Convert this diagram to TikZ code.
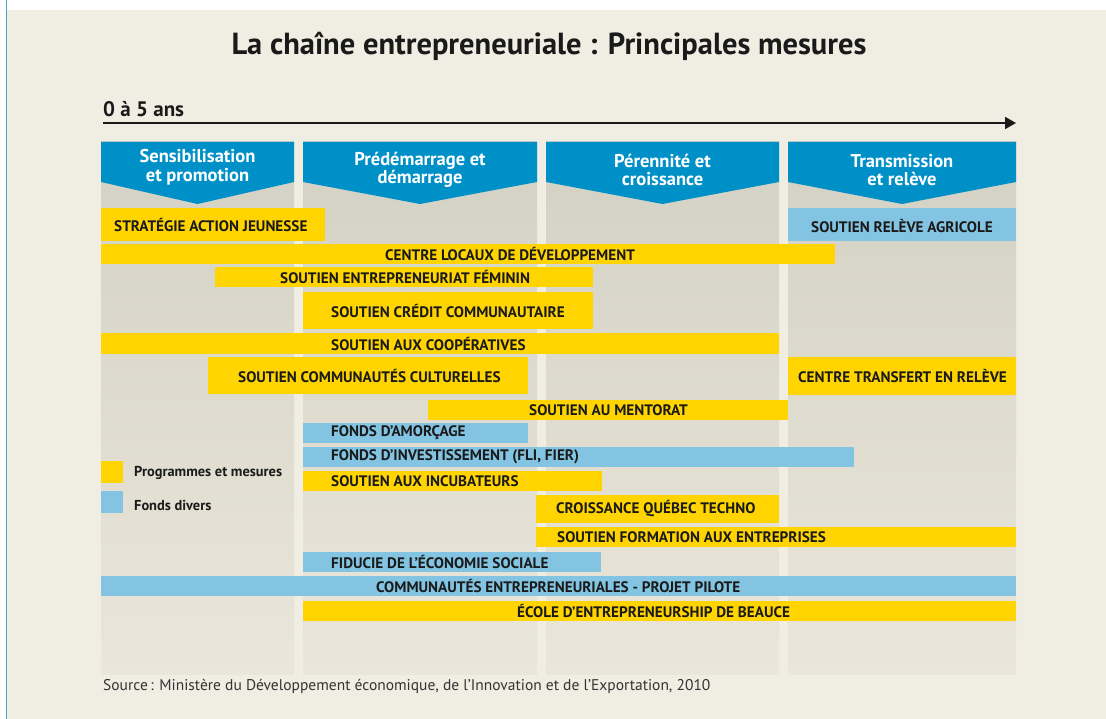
\documentclass[tikz,border=0pt]{standalone}
\usepackage{fontspec}
\setmainfont{PT Sans}
\usetikzlibrary{arrows.meta}
\definecolor{bg}{HTML}{F0EEE3}
\definecolor{coltop}{HTML}{D3D1C4}
\definecolor{colbot}{HTML}{EAE7DA}
\definecolor{hdr}{HTML}{0090C8}
\definecolor{ylw}{HTML}{FFD400}
\definecolor{lblue}{HTML}{82C4E2}
\definecolor{edgeblue}{HTML}{4AA8D8}
\definecolor{ink}{HTML}{1A1A1A}
\begin{document}
\begin{tikzpicture}[x=1pt,y=-1pt,
  bar/.style={draw=none,inner sep=0pt,anchor=north west},
  ybar/.style={bar,fill=ylw},
  bbar/.style={bar,fill=lblue},
  btxt/.style={inner sep=0pt,anchor=west,font=\bfseries\fontsize{15.2}{15.2}\selectfont,text=ink},
  hdrtxt/.style={inner sep=0pt,align=center,text=white,font=\bfseries\fontsize{18.5}{18.5}\selectfont},
  legtxt/.style={inner sep=0pt,anchor=west,font=\bfseries\fontsize{14.4}{14.4}\selectfont,text=ink}
]
\useasboundingbox (0,0) rectangle (1106,719);
% background
\fill[white] (0,0) rectangle (1106,719);
\fill[bg] (7,10) rectangle (1106,719);
\draw[edgeblue,line width=1.2pt] (6.5,0) -- (6.5,719);
% title
\node[inner sep=0pt,font=\bfseries\fontsize{30.5}{30.5}\selectfont,text=ink] (title) at (549,46) {La chaîne entrepreneuriale : Principales mesures};
% time axis
\node[inner sep=0pt,anchor=base west,font=\bfseries\fontsize{21}{21}\selectfont,text=ink] (ans) at (103,117) {0 à 5 ans};
\coordinate (ax0) at (103,123);
\coordinate (ax1) at (1016,123);
\draw[line width=1.8pt,color=ink,-{Triangle[length=11pt,width=12pt]}] (ax0) -- (ax1);
% columns
\foreach \xa/\xb in {101/294,303/537,546/779,788/1016}{
  \shade[top color=coltop,bottom color=colbot] (\xa,142) rectangle (\xb,674);
  \fill[hdr] (\xa,142) -- (\xb,142) -- (\xb,182) -- ({(\xa+\xb)/2},204) -- (\xa,182) -- cycle;
}
\node[hdrtxt] (h1) at (197.5,167) {Sensibilisation\\et promotion};
\node[hdrtxt] (h2) at (420,170) {Prédémarrage et\\démarrage};
\node[hdrtxt] (h3) at (662.5,170) {Pérennité et\\croissance};
\node[hdrtxt] (h4) at (902,170) {Transmission\\et relève};
% bars
\node[ybar,minimum width=224,minimum height=33] (b1) at (101,208) {};
\node[btxt] at (114,225) {STRATÉGIE ACTION JEUNESSE};
\node[bbar,minimum width=228,minimum height=33] (b0) at (788,208) {};
\node[btxt] at (811,226) {SOUTIEN RELÈVE AGRICOLE};
\node[ybar,minimum width=734,minimum height=20] (b2) at (101,244) {};
\node[btxt] at (385,254) {CENTRE LOCAUX DE DÉVELOPPEMENT};
\node[ybar,minimum width=378,minimum height=20] (b3) at (215,267) {};
\node[btxt] at (280,277) {SOUTIEN ENTREPRENEURIAT FÉMININ};
\node[ybar,minimum width=290,minimum height=37] (b4) at (303,292) {};
\node[btxt] at (331,311) {SOUTIEN CRÉDIT COMMUNAUTAIRE};
\node[ybar,minimum width=678,minimum height=21] (b5) at (101,333) {};
\node[btxt] at (331,344) {SOUTIEN AUX COOPÉRATIVES};
\node[ybar,minimum width=320,minimum height=37] (b6) at (208,357) {};
\node[btxt] at (238,376) {SOUTIEN COMMUNAUTÉS CULTURELLES};
\node[ybar,minimum width=228,minimum height=38] (b7) at (788,357) {};
\node[btxt] at (798,376) {CENTRE TRANSFERT EN RELÈVE};
\node[ybar,minimum width=360,minimum height=20] (b8) at (428,400) {};
\node[btxt] at (529,410) {SOUTIEN AU MENTORAT};
\node[bbar,minimum width=225,minimum height=20] (b9) at (303,423) {};
\node[btxt] at (331,433) {FONDS D’AMORÇAGE};
\node[bbar,minimum width=551,minimum height=20] (b10) at (303,447) {};
\node[btxt] at (331,457) {FONDS D’INVESTISSEMENT (FLI, FIER)};
\node[ybar,minimum width=299,minimum height=20] (b11) at (303,471) {};
\node[btxt] at (331,481) {SOUTIEN AUX INCUBATEURS};
\node[ybar,minimum width=243,minimum height=28] (b12) at (536,495) {};
\node[btxt] at (556,509) {CROISSANCE QUÉBEC TECHNO};
\node[ybar,minimum width=480,minimum height=20] (b13) at (536,527) {};
\node[btxt] at (557,537) {SOUTIEN FORMATION AUX ENTREPRISES};
\node[bbar,minimum width=298,minimum height=20] (b14) at (303,552) {};
\node[btxt] at (331,562) {FIDUCIE DE L’ÉCONOMIE SOCIALE};
\node[bbar,minimum width=915,minimum height=20] (b15) at (101,576) {};
\node[btxt] at (376,586) {COMMUNAUTÉS ENTREPRENEURIALES - PROJET PILOTE};
\node[ybar,minimum width=713,minimum height=20] (b16) at (303,601) {};
\node[btxt] at (517,611) {ÉCOLE D’ENTREPRENEURSHIP DE BEAUCE};
% legend
\node[ybar,minimum width=22,minimum height=22] (ly) at (101,461) {};
\node[bbar,minimum width=22,minimum height=22] (lb) at (101,491) {};
\node[legtxt] (lyt) at (134,473) {Programmes et mesures};
\node[legtxt] (lbt) at (134,505) {Fonds divers};
% source
\node[inner sep=0pt,anchor=base west,font=\fontsize{15.5}{15.5}\selectfont,text=black!80] (src) at (103,690) {Source\,: Ministère du Développement économique, de l’Innovation et de l’Exportation, 2010};
\end{tikzpicture}
\end{document}
